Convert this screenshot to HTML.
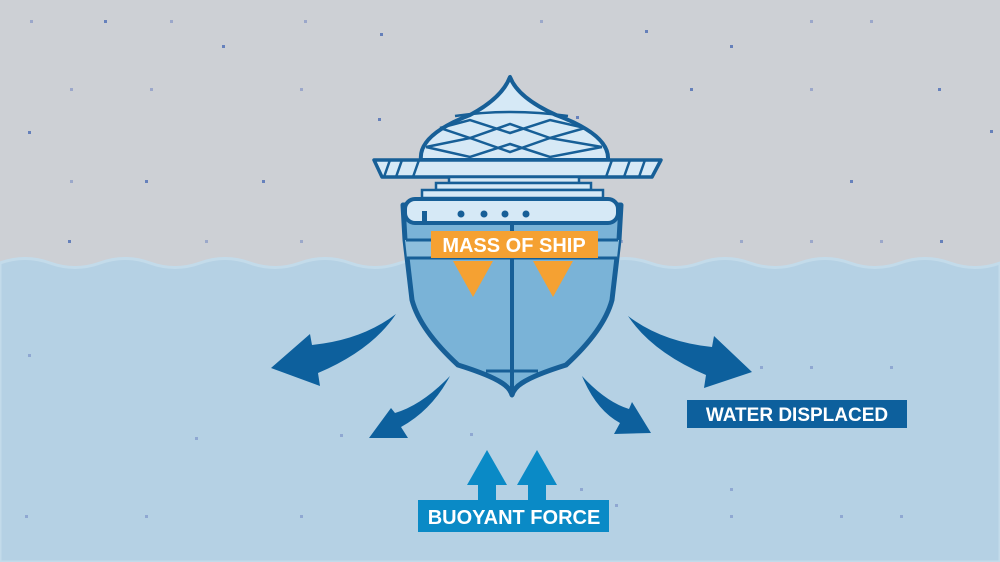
<!DOCTYPE html>
<html><head><meta charset="utf-8"><style>
html,body{margin:0;padding:0;width:1000px;height:562px;overflow:hidden;background:#cdd0d5}
svg{display:block}
text{font-family:"Liberation Sans",sans-serif;font-weight:bold;fill:#fff}
</style></head><body>
<svg width="1000" height="562" viewBox="0 0 1000 562" xmlns="http://www.w3.org/2000/svg">
<rect width="1000" height="562" fill="#cdd0d5"/>
<path d="M0,263 Q25,254 50,263 T100,263 T150,263 T200,263 T250,263 T300,263 T350,263 T400,263 T450,263 T500,263 T550,263 T600,263 T650,263 T700,263 T750,263 T800,263 T850,263 T900,263 T950,263 T1000,263 L1000,562 L0,562 Z" fill="#b5d1e4" stroke="#c3dbea" stroke-width="3"/>
<g fill="#3a5fb0" opacity="0.7">
<rect x="104" y="20" width="3" height="3"/><rect x="222" y="45" width="3" height="3"/><rect x="28" y="131" width="3" height="3"/><rect x="262" y="180" width="3" height="3"/><rect x="380" y="33" width="3" height="3"/><rect x="730" y="45" width="3" height="3"/><rect x="850" y="180" width="3" height="3"/><rect x="938" y="88" width="3" height="3"/><rect x="990" y="130" width="3" height="3"/><rect x="645" y="30" width="3" height="3"/><rect x="576" y="116" width="3" height="3"/><rect x="378" y="118" width="3" height="3"/><rect x="940" y="240" width="3" height="3"/><rect x="690" y="88" width="3" height="3"/><rect x="145" y="180" width="3" height="3"/><rect x="68" y="240" width="3" height="3"/>
</g>
<g fill="#6a7fc0" opacity="0.5">
<rect x="30" y="20" width="3" height="3"/><rect x="170" y="20" width="3" height="3"/><rect x="304" y="20" width="3" height="3"/><rect x="540" y="20" width="3" height="3"/><rect x="810" y="20" width="3" height="3"/><rect x="870" y="20" width="3" height="3"/><rect x="70" y="88" width="3" height="3"/><rect x="150" y="88" width="3" height="3"/><rect x="300" y="88" width="3" height="3"/><rect x="810" y="88" width="3" height="3"/><rect x="70" y="180" width="3" height="3"/><rect x="300" y="240" width="3" height="3"/><rect x="620" y="240" width="3" height="3"/><rect x="740" y="240" width="3" height="3"/><rect x="810" y="240" width="3" height="3"/><rect x="880" y="240" width="3" height="3"/><rect x="205" y="240" width="3" height="3"/>
<rect x="28" y="354" width="3" height="3"/><rect x="340" y="434" width="3" height="3"/><rect x="195" y="437" width="3" height="3"/><rect x="25" y="515" width="3" height="3"/><rect x="145" y="515" width="3" height="3"/><rect x="300" y="515" width="3" height="3"/><rect x="760" y="366" width="3" height="3"/><rect x="810" y="366" width="3" height="3"/><rect x="890" y="366" width="3" height="3"/><rect x="730" y="488" width="3" height="3"/><rect x="730" y="515" width="3" height="3"/><rect x="840" y="515" width="3" height="3"/><rect x="900" y="515" width="3" height="3"/><rect x="580" y="488" width="3" height="3"/><rect x="615" y="504" width="3" height="3"/><rect x="470" y="433" width="3" height="3"/>
</g>
<!-- dome -->
<path d="M510,77 Q502,98 470,115 Q418,135 421,160 L608,160 Q610,135 556,115 Q518,98 510,77 Z" fill="#d6e9f6" stroke="#175f97" stroke-width="4" stroke-linejoin="round"/>
<g stroke="#175f97" stroke-width="2.5" fill="none">
<path d="M440,128 L470,120 L510,133 L550,120 L585,128"/>
<path d="M440,128 L470,138 L510,124 L550,138 L585,128"/>
<path d="M426,147 L470,138 L510,152 L550,138 L602,147"/>
<path d="M426,147 L470,157 L510,144 L550,157 L602,147"/>
<path d="M455,116 Q510,108 568,116"/>
</g>
<!-- brim -->
<path d="M374,160 L661,160 L652,177 L382,177 Z" fill="#d6e9f6" stroke="#175f97" stroke-width="3.5" stroke-linejoin="round"/>
<g stroke="#175f97" stroke-width="2.5"><line x1="390" y1="160" x2="384" y2="177"/><line x1="402" y1="160" x2="396" y2="177"/><line x1="419" y1="160" x2="413" y2="177"/><line x1="612" y1="160" x2="606" y2="177"/><line x1="630" y1="160" x2="624" y2="177"/><line x1="645" y1="160" x2="639" y2="177"/></g>
<rect x="449" y="177" width="130" height="6" fill="#d6e9f6" stroke="#175f97" stroke-width="2.5"/>
<rect x="436" y="183" width="155" height="7" fill="#d6e9f6" stroke="#175f97" stroke-width="2.5"/>
<rect x="422" y="190" width="181" height="8" fill="#d6e9f6" stroke="#175f97" stroke-width="2.5"/>
<!-- hull -->
<path d="M403,205 L405,240 L412,300 Q420,330 458,365 Q490,375 502,383 Q510,388 512,395 Q514,388 522,383 Q534,375 566,365 Q604,330 612,300 L619,240 L621,205 Z" fill="#7ab3d7" stroke="#175f97" stroke-width="5" stroke-linejoin="round"/>
<path d="M405,240 L619,240 L617,258 L407,258 Z" fill="#8ebfdd"/>
<line x1="406" y1="240" x2="618" y2="240" stroke="#175f97" stroke-width="3"/>
<line x1="407" y1="258" x2="617" y2="258" stroke="#175f97" stroke-width="3"/>
<line x1="512" y1="222" x2="512" y2="392" stroke="#175f97" stroke-width="4"/>
<path d="M486,371 L538,371" stroke="#175f97" stroke-width="3"/>
<rect x="405" y="199" width="213" height="24" rx="10" fill="#d6e9f6" stroke="#175f97" stroke-width="4"/>
<rect x="422" y="211" width="5" height="12" fill="#175f97"/>
<g fill="#175f97"><circle cx="461" cy="214" r="3.5"/><circle cx="484" cy="214" r="3.5"/><circle cx="505" cy="214" r="3.5"/><circle cx="526" cy="214" r="3.5"/></g>
<!-- mass of ship -->
<rect x="431" y="231" width="167" height="27" fill="#f5a132"/>
<text x="514" y="252" font-size="20" text-anchor="middle">MASS OF SHIP</text>
<path d="M453,261 L493,261 L473,297 Z M533,261 L573,261 L553,297 Z" fill="#f5a132"/>
<!-- displacement arrows -->
<g fill="#0d609d">
<path d="M396,314 Q362,340 312,345 L310,334 L271,368 L320,386 L318,373 Q372,350 396,314 Z"/>
<path d="M450,376 Q422,405 395,413 L391,408 L369,438 L408,438 L401,427 Q432,410 450,376 Z"/>
<path d="M628,316 Q662,342 712,347 L714,336 L752,372 L704,388 L706,375 Q652,352 628,316 Z"/>
<path d="M582,376 Q606,402 629,409 L632,402 L651,433 L614,434 L620,423 Q596,410 582,376 Z"/>
</g>
<rect x="687" y="400" width="220" height="28" fill="#0d609d"/>
<text x="797" y="421" font-size="19" text-anchor="middle">WATER DISPLACED</text>
<!-- buoyant -->
<g fill="#0a8ac6">
<path d="M487,450 L507,485 L496,485 L496,502 L478,502 L478,485 L467,485 Z"/>
<path d="M537,450 L557,485 L546,485 L546,502 L528,502 L528,485 L517,485 Z"/>
<rect x="418" y="500" width="191" height="32"/>
</g>
<text x="514" y="524" font-size="20" text-anchor="middle">BUOYANT FORCE</text>
</svg>
</body></html>
